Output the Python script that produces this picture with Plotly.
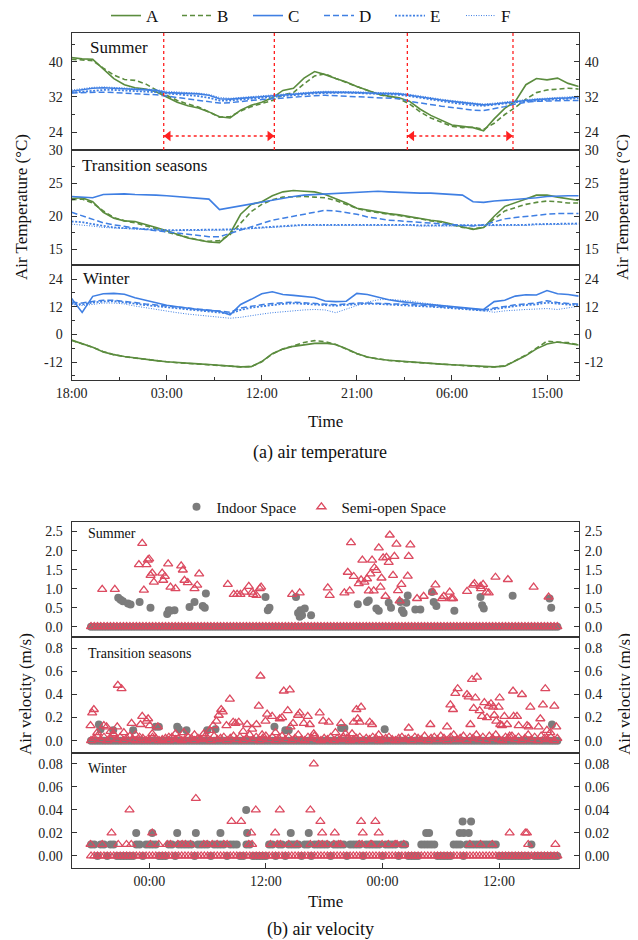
import plotly.graph_objects as go

W, H = 638, 940
PAGE_OFF = 8  # the page body margin shifts the figure by this many px
GREEN = "#5b8c3e"
BLUE = "#3f7fe3"
RED_LINE = "#ff2020"
TRI_RED = "#dc4a60"
GRAY = "#7c7c7c"
AXIS = "#333333"
FONT = "Liberation Serif"

# ======================= (a) air temperature =======================
temp_hours = list(range(49))  # hours after 18:00 of day 1
temp_tick_vals = [0, 9, 18, 27, 36, 45]
temp_tick_text = ["18:00", "03:00", "12:00", "21:00", "06:00", "15:00"]
temp_minor_vals = [4.5, 13.5, 22.5, 31.5, 40.5]
series_names = ["A", "B", "C", "D", "E", "F"]

summer_A = [41.0, 40.7, 40.6, 38.3, 36.2, 34.8, 34.1, 33.8, 33.2, 32.0,
            30.8, 30.0, 29.5, 28.6, 27.5, 27.2, 29.0, 30.1, 30.8, 31.8,
            33.5, 34.0, 36.3, 37.8, 37.1, 36.2, 35.4, 34.4, 33.5, 32.7,
            32.2, 31.8, 31.0, 29.2, 27.8, 26.7, 25.6, 25.3, 25.0, 24.3,
            27.0, 29.4, 31.0, 34.8, 36.2, 35.9, 36.3, 35.1, 34.4]
summer_B = [40.6, 40.5, 40.3, 38.6, 37.0, 36.0, 35.8, 35.0, 33.6, 32.4,
            31.2, 30.4, 29.7, 28.6, 27.4, 27.5, 28.8, 29.8, 30.5, 31.2,
            32.5, 33.0, 35.0, 36.8, 37.3, 36.2, 35.3, 34.4, 33.4, 32.6,
            32.1, 31.6, 30.4, 28.6, 27.2, 26.2, 25.3, 25.0, 25.1, 24.6,
            26.0, 28.0, 29.6, 31.5, 33.0, 33.6, 33.8, 34.0, 33.8]
summer_C = [33.3, 33.6, 34.0, 34.1, 34.0, 33.9, 33.8, 33.7, 33.5, 33.0,
            32.9, 32.8, 32.7, 32.4, 31.6, 31.5, 31.7, 31.9, 32.1, 32.3,
            32.5, 32.7, 32.9, 33.0, 33.1, 33.1, 33.1, 33.0, 32.9, 32.8,
            32.7, 32.7, 32.4, 32.0, 31.6, 31.3, 31.0, 30.7, 30.4, 30.2,
            30.4, 30.7, 31.0, 31.2, 31.4, 31.6, 31.7, 31.8, 32.0]
summer_D = [32.9, 33.0, 33.1, 33.1, 33.0, 32.9, 32.8, 32.7, 32.5, 32.2,
            31.9, 31.6, 31.3, 30.9, 30.6, 30.7, 31.0, 31.2, 31.4, 31.6,
            31.8, 32.0, 32.2, 32.3, 32.4, 32.3, 32.2, 32.1, 32.0, 31.9,
            31.8, 31.6, 31.0, 30.6, 30.2, 29.9, 29.6, 29.3, 29.0, 28.9,
            29.3, 29.8, 30.4, 30.8, 31.0, 31.1, 31.2, 31.2, 31.2]
summer_E = [33.0, 33.2, 33.5, 33.6, 33.6, 33.5, 33.4, 33.3, 33.1, 32.8,
            32.6, 32.4, 32.2, 31.8, 31.2, 31.2, 31.4, 31.6, 31.8, 32.0,
            32.3, 32.5, 32.7, 32.8, 32.9, 33.0, 33.0, 32.9, 32.8, 32.7,
            32.6, 32.5, 32.2, 31.8, 31.4, 31.0, 30.7, 30.4, 30.1, 30.0,
            30.2, 30.5, 30.8, 31.0, 31.2, 31.4, 31.5, 31.6, 31.7]
summer_F = [33.6, 33.9, 34.2, 34.3, 34.2, 34.1, 34.0, 33.9, 33.7, 33.3,
            33.1, 33.0, 32.9, 32.6, 31.9, 31.7, 31.9, 32.1, 32.3, 32.5,
            32.7, 32.9, 33.1, 33.2, 33.3, 33.3, 33.3, 33.2, 33.1, 33.0,
            32.9, 32.9, 32.6, 32.2, 31.8, 31.5, 31.2, 30.9, 30.6, 30.4,
            30.6, 30.9, 31.2, 31.4, 31.6, 31.8, 31.9, 32.0, 32.2]

trans_A = [22.7, 22.8, 22.2, 20.6, 19.7, 19.3, 19.2, 18.8, 18.3, 17.8,
           17.3, 16.7, 16.4, 16.1, 16.0, 17.4, 20.3, 21.8, 22.2, 23.1,
           23.7, 23.9, 23.8, 23.7, 23.3, 22.7, 22.0, 21.2, 20.9, 20.6,
           20.4, 20.2, 19.9, 19.7, 19.4, 19.2, 18.8, 18.3, 18.0, 18.3,
           20.0, 21.5, 22.0, 22.6, 23.2, 23.2, 22.9, 22.6, 22.4]
trans_B = [22.5, 22.6, 22.0, 20.8, 19.8, 19.3, 19.0, 18.6, 18.1, 17.6,
           17.2, 16.7, 16.4, 16.2, 16.3, 17.2, 19.0, 20.7, 21.8, 22.5,
           22.9, 23.0, 23.0, 22.9, 22.8, 22.4, 21.8, 21.2, 20.8, 20.5,
           20.3, 20.1, 19.9, 19.6, 19.3, 19.1, 18.7, 18.3, 18.1, 18.3,
           19.6, 20.8, 21.3, 21.8, 22.1, 22.3, 22.2, 22.0, 22.0]
trans_C = [23.0, 22.9, 22.8, 23.3, 23.4, 23.4, 23.3, 23.3, 23.2, 23.1,
           23.0, 22.9, 22.8, 22.6, 21.0, 21.3, 21.6, 21.9, 22.2, 22.4,
           22.7, 23.0, 23.2, 23.3, 23.4, 23.5, 23.6, 23.7, 23.7, 23.8,
           23.7, 23.6, 23.6, 23.5, 23.5, 23.4, 23.3, 23.2, 22.2, 22.1,
           22.3, 22.4, 22.5, 22.6, 22.8, 23.0, 23.1, 23.1, 23.1]
trans_D = [20.6, 20.1, 19.6, 19.0, 18.7, 18.4, 18.2, 18.0, 17.8, 17.6,
           17.5, 17.3, 17.1, 16.9, 16.9, 17.4, 18.0, 18.5, 19.0, 19.4,
           19.7, 20.0, 20.4, 20.7, 20.9, 20.8, 20.6, 20.3, 19.9, 19.6,
           19.4, 19.3, 19.2, 19.0, 18.9, 18.8, 18.7, 18.6, 18.5, 18.7,
           19.2, 19.6, 19.8, 20.0, 20.2, 20.3, 20.4, 20.4, 20.4]
trans_E = [19.2, 19.1, 18.8, 18.5, 18.3, 18.2, 18.1, 18.0, 18.0, 17.9,
           17.9, 17.9, 17.9, 17.9, 17.9, 18.0, 18.1, 18.2, 18.3, 18.5,
           18.6, 18.7, 18.7, 18.7, 18.7, 18.7, 18.7, 18.7, 18.7, 18.7,
           18.7, 18.8, 18.7, 18.6, 18.6, 18.6, 18.6, 18.6, 18.6, 18.6,
           18.6, 18.7, 18.7, 18.7, 18.8, 18.8, 18.9, 18.9, 18.9]
trans_F = [18.8, 18.7, 18.5, 18.3, 18.2, 18.1, 18.0, 17.9, 17.9, 17.8,
           17.8, 17.8, 17.8, 17.8, 17.8, 17.9, 18.0, 18.1, 18.2, 18.4,
           18.5, 18.6, 18.6, 18.6, 18.6, 18.6, 18.6, 18.6, 18.6, 18.6,
           18.6, 18.7, 18.6, 18.5, 18.5, 18.5, 18.5, 18.5, 18.5, 18.5,
           18.5, 18.6, 18.6, 18.6, 18.7, 18.7, 18.8, 18.8, 18.8]

winter_A = [-2.5, -4.0, -5.6, -7.6, -8.8, -9.6, -10.3, -10.9, -11.4, -11.9,
            -12.3, -12.6, -12.8, -13.1, -13.5, -14.0, -14.1, -14.0, -11.8, -8.4,
            -6.4, -5.2, -4.4, -3.9, -3.8, -4.4, -6.2, -8.3, -9.8, -10.7,
            -11.2, -11.6, -12.0, -12.3, -12.6, -12.9, -13.2, -13.5, -13.8, -14.0,
            -14.1, -13.8, -11.5, -9.2, -6.3, -4.2, -3.3, -3.9, -4.6]
winter_B = [-2.6, -4.1, -5.6, -7.5, -8.8, -9.7, -10.3, -10.9, -11.5, -11.9,
            -12.3, -12.6, -12.9, -13.1, -13.5, -13.9, -14.1, -14.0, -11.9, -8.5,
            -6.3, -5.0, -3.5, -2.7, -3.2, -4.4, -6.3, -8.4, -9.9, -10.7,
            -11.3, -11.7, -12.0, -12.4, -12.7, -12.9, -13.3, -13.5, -13.8, -14.1,
            -14.1, -13.7, -11.4, -9.0, -6.0, -2.9, -3.4, -3.6, -4.5]
winter_C = [15.6, 9.5, 16.5, 17.6, 17.8, 17.4, 15.9, 14.8, 13.5, 12.6,
            12.0, 11.3, 10.8, 10.4, 10.0, 8.5, 13.0, 15.2, 17.6, 18.5,
            17.3, 16.9, 16.6, 16.0, 14.5, 14.2, 14.4, 17.8, 17.3, 16.0,
            15.0, 14.3, 13.7, 13.3, 12.9, 12.5, 12.0, 11.7, 11.3, 10.8,
            14.2, 14.8, 16.6, 17.2, 17.1, 19.0, 17.6, 17.3, 16.6]
winter_D = [14.0, 13.6, 14.3, 14.8, 14.8, 14.4, 13.8, 13.2, 12.7, 12.2,
            11.8, 11.3, 10.9, 10.5, 10.1, 9.6, 11.4, 12.3, 12.9, 13.4,
            13.8, 14.0, 13.7, 13.4, 13.0, 12.8, 13.2, 13.6, 13.6, 13.5,
            13.3, 13.2, 13.0, 12.7, 12.3, 12.0, 11.7, 11.3, 11.0, 10.6,
            11.4, 12.2, 12.8, 13.2, 13.6, 14.6, 13.8, 13.4, 13.2]
winter_E = [13.4, 13.0, 13.8, 14.3, 14.4, 14.0, 13.3, 12.7, 12.2, 11.7,
            11.2, 10.7, 10.3, 9.9, 9.5, 9.0, 10.6, 11.6, 12.2, 12.8,
            13.2, 13.5, 13.3, 13.0, 12.7, 12.4, 12.8, 13.2, 13.3, 13.2,
            13.0, 12.9, 12.7, 12.4, 12.0, 11.7, 11.4, 11.0, 10.7, 10.3,
            11.0, 11.8, 12.3, 12.7, 13.0, 13.8, 13.2, 12.9, 12.7]
winter_F = [13.0, 12.5, 13.0, 13.6, 13.6, 13.2, 12.3, 11.5, 10.7, 10.0,
            9.4, 8.8, 8.3, 7.9, 7.4, 7.0, 7.4, 8.2, 8.8, 9.4,
            9.9, 10.3, 10.6, 10.8, 10.6, 9.4, 10.8, 12.5, 14.0, 15.0,
            15.2, 15.0, 14.5, 13.8, 13.2, 12.6, 12.0, 11.5, 11.0, 10.3,
            9.6, 10.2, 10.6, 10.8, 11.0, 11.2, 10.8, 11.6, 12.2]

summer_temp_ticks = [24, 32, 40]
trans_temp_ticks = [15, 20, 25, 30]
winter_temp_ticks = [-12, 0, 12, 24]

# comparison periods marked in summer (hours after 18:00)
summer_periods = [(8.72, 19.19), (31.78, 41.78)]
arrow_level = 23.1

# ======================= (b) air velocity =======================
vel_tick_vals = [0, 12, 24, 36]          # hours after 00:00 of day 1
vel_tick_text = ["00:00", "12:00", "00:00", "12:00"]
vel_hours = [-6 + i / 3 for i in range(145)]  # 20-min logging grid

summer_vel_ticks = [0.0, 0.5, 1.0, 1.5, 2.0, 2.5]
trans_vel_ticks = [0.0, 0.2, 0.4, 0.6, 0.8]
winter_vel_ticks = [0.0, 0.02, 0.04, 0.06, 0.08]

summer_indoor_band = [
    0, 0, 0, 0, 0, 0, 0, 0, 0, 0, 0, 0,
    0, 0, 0, 0, 0, 0, 0, 0, 0, 0, 0, 0,
    0, 0, 0, 0, 0, 0, 0, 0, 0, 0, 0, 0,
    0, 0, 0, 0, 0, 0, 0, 0, 0, 0, 0, 0,
    0, 0, 0, 0, 0, 0, 0, 0, 0, 0, 0, 0,
    0, 0, 0, 0, 0, 0, 0, 0, 0, 0, 0, 0,
    0, 0, 0, 0, 0, 0, 0, 0, 0, 0, 0, 0,
    0, 0, 0, 0, 0, 0, 0, 0, 0, 0, 0, 0,
    0, 0, 0, 0, 0, 0, 0, 0, 0, 0, 0, 0,
    0, 0, 0, 0, 0, 0, 0, 0, 0, 0, 0, 0,
    0, 0, 0, 0, 0, 0, 0, 0, 0, 0, 0, 0,
    0, 0, 0, 0, 0, 0, 0, 0, 0, 0, 0, 0,
    0]
summer_semi_band = [
    0, 0, 0, 0, 0, 0, 0, 0, 0, 0, 0, 0,
    0, 0, 0, 0, 0, 0, 0, 0, 0, 0, 0, 0,
    0, 0, 0, 0, 0, 0, 0, 0, 0, 0, 0, 0,
    0, 0, 0, 0, 0, 0, 0, 0, 0, 0, 0, 0,
    0, 0, 0, 0, 0, 0, 0, 0, 0, 0, 0, 0,
    0, 0, 0, 0, 0, 0, 0, 0, 0, 0, 0, 0,
    0, 0, 0, 0, 0, 0, 0, 0, 0, 0, 0, 0,
    0, 0, 0, 0, 0, 0, 0, 0, 0, 0, 0, 0,
    0, 0, 0, 0, 0, 0, 0, 0, 0, 0, 0, 0,
    0, 0, 0, 0, 0, 0, 0, 0, 0, 0, 0, 0,
    0, 0, 0, 0, 0, 0, 0, 0, 0, 0, 0, 0,
    0, 0, 0, 0, 0, 0, 0, 0, 0, 0, 0, 0,
    0]
summer_indoor_peaks = [
    (-3.2, 0.76), (-2.96, 0.71), (-2.72, 0.67), (-2.2, 0.61), (-1.93, 0.58),
    (-1.0, 0.65), (0.12, 0.5), (1.84, 0.33), (2.01, 0.43), (2.18, 0.42),
    (2.59, 0.43), (4.14, 0.52), (4.65, 0.65), (5.5, 0.54), (5.71, 0.5),
    (5.82, 0.87), (11.96, 0.78), (12.2, 0.43), (12.37, 0.5), (15.1, 0.78),
    (15.31, 0.36), (15.48, 0.26), (15.55, 0.43), (15.72, 0.3), (16.0, 0.48),
    (16.65, 0.3), (21.46, 0.59), (22.41, 0.65), (22.59, 0.69), (23.37, 0.48),
    (23.62, 0.42), (24.64, 0.63), (24.88, 0.5), (25.84, 0.65), (26.0, 0.43),
    (26.18, 0.36), (26.46, 0.63), (26.6, 0.82), (27.38, 0.45), (27.9, 0.45),
    (29.1, 0.91), (29.27, 0.65), (29.55, 0.54), (31.4, 0.42), (34.09, 0.78),
    (34.26, 0.56), (34.43, 0.48), (37.4, 0.81), (41.2, 0.74), (41.37, 0.5)]
summer_semi_peaks = [
    (-4.85, 0.98), (-3.55, 0.98), (-1.07, 1.63), (-0.73, 2.19), (-0.56, 0.96),
    (-0.29, 1.63), (-0.15, 1.75), (-0.02, 1.78), (0.13, 1.35), (0.3, 1.41),
    (0.47, 1.17), (1.32, 1.41), (1.43, 1.22), (1.6, 1.32), (1.94, 1.65),
    (2.18, 1.04), (2.69, 1.0), (3.28, 1.6), (3.45, 1.49), (3.62, 1.22),
    (3.96, 1.16), (4.65, 1.0), (4.93, 1.09), (5.13, 1.39), (8.08, 1.11),
    (8.69, 0.85), (9.04, 0.85), (9.38, 0.85), (9.79, 0.91), (10.24, 1.06),
    (10.58, 0.91), (10.69, 0.85), (11.03, 0.82), (11.37, 1.0), (11.51, 1.04),
    (14.7, 0.85), (15.48, 0.89), (18.37, 1.02), (18.57, 0.82), (20.08, 0.89),
    (20.43, 1.43), (20.63, 0.94), (20.76, 2.21), (21.04, 1.32), (21.56, 1.13),
    (21.8, 1.23), (21.93, 1.75), (22.14, 1.17), (22.41, 1.26), (22.59, 0.94),
    (22.76, 1.39), (22.93, 1.75), (23.1, 0.94), (23.17, 1.55), (23.37, 1.48),
    (23.62, 2.07), (23.79, 1.04), (23.9, 1.28), (24.07, 1.81), (24.31, 0.8),
    (24.41, 1.82), (24.64, 1.69), (24.75, 2.41), (25.09, 1.35), (25.23, 1.85),
    (25.44, 2.17), (25.6, 0.95), (25.77, 0.68), (25.95, 1.11), (26.6, 1.33),
    (26.7, 1.85), (26.87, 2.15), (27.56, 0.74), (28.24, 0.8), (29.2, 0.91),
    (29.45, 1.1), (30.13, 0.74), (30.31, 0.8), (30.92, 0.91), (31.1, 0.74),
    (31.27, 0.74), (32.71, 0.93), (33.33, 1.09), (33.47, 1.13), (34.09, 1.06),
    (34.15, 1.0), (34.36, 1.11), (34.7, 0.91), (34.94, 0.89), (35.63, 1.3),
    (36.91, 1.24), (39.56, 1.04), (41.1, 0.78)]

trans_indoor_band = [
    0, 0, 0, 0, 0, 0, 0, 0, 0, 0, 0, 0,
    0, 0, 0, 0, 0, 0, 0, 0, 0, 0, 0, 0,
    0, 0, 0, 0, 0, 0, 0, 0, 0, 0, 0, 0,
    0, 0, 0, 0, 0, 0, 0, 0, 0, 0, 0, 0,
    0, 0, 0, 0, 0, 0, 0, 0, 0, 0, 0, 0,
    0, 0, 0, 0, 0, 0, 0, 0, 0, 0, 0, 0,
    0, 0, 0, 0, 0, 0, 0, 0, 0, 0, 0, 0,
    0, 0, 0, 0, 0, 0, 0, 0, 0, 0, 0, 0,
    0, 0, 0, 0, 0, 0, 0, 0, 0, 0, 0, 0,
    0, 0, 0, 0, 0, 0, 0, 0, 0, 0, 0, 0,
    0, 0, 0, 0, 0, 0, 0, 0, 0, 0, 0, 0,
    0, 0, 0, 0, 0, 0, 0, 0, 0, 0, 0, 0,
    0]
trans_semi_band = [
    0.0, 0.02, 0.04, 0.01, 0.03, 0.0, 0.02, 0.05, 0.01, 0.03, 0.0, 0.02,
    0.04, 0.01, 0.0, 0.03, 0.02, 0.0, 0.01, 0.03, 0.02, 0.0, 0.01, 0.02,
    0.0, 0.03, 0.01, 0.02, 0.0, 0.01, 0.03, 0.02, 0.0, 0.02, 0.01, 0.03,
    0.02, 0.0, 0.04, 0.01, 0.02, 0.03, 0.0, 0.02, 0.04, 0.01, 0.03, 0.0,
    0.02, 0.05, 0.01, 0.03, 0.0, 0.02, 0.04, 0.01, 0.03, 0.0, 0.02, 0.04,
    0.01, 0.03, 0.0, 0.02, 0.05, 0.01, 0.0, 0.03, 0.02, 0.04, 0.01, 0.0,
    0.02, 0.01, 0.03, 0.0, 0.02, 0.01, 0.03, 0.02, 0.0, 0.01, 0.02, 0.03,
    0.0, 0.02, 0.01, 0.03, 0.02, 0.0, 0.01, 0.02, 0.03, 0.01, 0.0, 0.02,
    0.03, 0.01, 0.02, 0.0, 0.03, 0.02, 0.01, 0.04, 0.0, 0.02, 0.03, 0.01,
    0.04, 0.02, 0.0, 0.03, 0.05, 0.01, 0.02, 0.04, 0.0, 0.03, 0.02, 0.05,
    0.01, 0.03, 0.0, 0.04, 0.02, 0.05, 0.01, 0.0, 0.03, 0.02, 0.04, 0.01,
    0.03, 0.0, 0.02, 0.05, 0.01, 0.03, 0.0, 0.04, 0.02, 0.01, 0.03, 0.0,
    0.02]
trans_indoor_peaks = [
    (-5.19, 0.14), (-5.02, 0.10), (-3.72, 0.09), (-1.66, 0.09), (0.64, 0.12),
    (0.98, 0.12), (2.87, 0.12), (3.04, 0.10), (3.83, 0.09), (5.96, 0.09),
    (6.81, 0.10), (12.88, 0.12), (14.0, 0.09), (14.35, 0.09), (19.74, 0.11),
    (20.08, 0.11), (24.23, 0.10), (41.45, 0.14)]
trans_semi_peaks = [
    (-6.05, 0.13), (-5.88, 0.24), (-5.71, 0.27), (-5.36, 0.07), (-4.68, 0.13),
    (-4.4, 0.12), (-3.99, 0.08), (-3.72, 0.06), (-3.3, 0.12), (-3.24, 0.48),
    (-2.86, 0.45), (-2.62, 0.07), (-1.83, 0.15), (-1.42, 0.05), (-0.91, 0.14),
    (-0.73, 0.21), (-0.29, 0.17), (-0.12, 0.19), (0.05, 0.13), (0.3, 0.06),
    (0.88, 0.12), (2.01, 0.03), (2.7, 0.06), (3.55, 0.07), (4.65, 0.05),
    (5.61, 0.06), (6.23, 0.09), (6.57, 0.13), (6.91, 0.17), (7.15, 0.22),
    (7.4, 0.27), (7.56, 0.25), (7.94, 0.13), (8.29, 0.36), (8.63, 0.16),
    (8.87, 0.15), (9.21, 0.16), (9.66, 0.08), (10.07, 0.14), (10.58, 0.1),
    (11.03, 0.14), (11.27, 0.3), (11.44, 0.56), (11.61, 0.05), (11.96, 0.17),
    (12.13, 0.23), (12.64, 0.21), (12.99, 0.07), (13.43, 0.19), (13.67, 0.2),
    (13.84, 0.43), (14.25, 0.26), (14.46, 0.44), (14.53, 0.12), (14.8, 0.15),
    (15.31, 0.22), (15.48, 0.24), (15.9, 0.15), (16.31, 0.21), (16.52, 0.14),
    (16.93, 0.06), (17.54, 0.24), (17.89, 0.17), (18.47, 0.16), (19.16, 0.07),
    (19.74, 0.15), (20.19, 0.06), (20.87, 0.06), (21.04, 0.16), (21.32, 0.27),
    (21.45, 0.19), (21.66, 0.16), (21.8, 0.29), (22.69, 0.16), (22.93, 0.14),
    (23.61, 0.05), (26.7, 0.11), (28.93, 0.14), (30.65, 0.12), (30.99, 0.31),
    (31.26, 0.27), (31.5, 0.41), (31.74, 0.45), (32.7, 0.4), (32.87, 0.38),
    (33.05, 0.14), (33.22, 0.53), (33.39, 0.28), (33.56, 0.37), (33.73, 0.55),
    (34.0, 0.26), (34.25, 0.21), (34.49, 0.33), (34.76, 0.2), (34.93, 0.3),
    (35.17, 0.32), (35.38, 0.29), (35.51, 0.22), (35.72, 0.17), (35.96, 0.29),
    (36.06, 0.37), (36.13, 0.14), (36.3, 0.13), (36.55, 0.21), (36.82, 0.14),
    (37.09, 0.04), (37.44, 0.43), (37.5, 0.21), (37.85, 0.21), (38.02, 0.13),
    (38.36, 0.4), (38.88, 0.13), (39.05, 0.12), (39.22, 0.29), (40.07, 0.12),
    (40.25, 0.19), (40.52, 0.31), (40.76, 0.45), (40.93, 0.09), (41.28, 0.07),
    (41.69, 0.3), (41.89, 0.12)]

winter_indoor_band = [
    0.01, 0.01, 0, 0.01, 0.01, 0, 0.01, 0.01, 0, 0, 0, 0,
    0, 0, 0.01, 0.01, 0, 0.01, 0.01, 0.01, 0.01, 0, 0, 0,
    0.01, 0.01, 0, 0.01, 0.01, 0.01, 0.01, 0.01, 0, 0.01, 0.01, 0.01,
    0.01, 0, 0.01, 0.01, 0.01, 0.01, 0, 0.01, 0.01, 0.01, 0, 0,
    0.01, 0.01, 0, 0, 0, 0, 0, 0.01, 0.01, 0, 0.01, 0.01,
    0, 0.01, 0.01, 0.01, 0.01, 0, 0.01, 0.01, 0, 0.01, 0.01, 0.01,
    0.01, 0.01, 0, 0.01, 0.01, 0.01, 0.01, 0, 0.01, 0.01, 0.01, 0.01,
    0, 0.01, 0.01, 0.01, 0.01, 0.01, 0, 0.01, 0.01, 0.01, 0.01, 0,
    0.01, 0.01, 0, 0, 0, 0, 0.01, 0.01, 0.01, 0.01, 0.01, 0,
    0, 0, 0, 0, 0.01, 0.01, 0.01, 0, 0.01, 0.01, 0.01, 0.01,
    0.01, 0.01, 0.01, 0.01, 0.01, 0.01, 0, 0, 0, 0, 0, 0,
    0, 0, 0, 0, 0.01, 0, 0, 0, 0, 0, 0, 0,
    0]
winter_semi_band = [
    0, 0, 0, 0, 0, 0, 0, 0, 0, 0, 0, 0,
    0, 0, 0, 0, 0, 0, 0, 0, 0, 0, 0, 0,
    0, 0, 0, 0, 0, 0, 0, 0, 0, 0, 0, 0,
    0, 0, 0, 0, 0, 0, 0, 0, 0, 0, 0, 0,
    0, 0, 0, 0, 0, 0, 0, 0, 0, 0, 0, 0,
    0, 0, 0, 0, 0, 0, 0, 0, 0, 0, 0, 0,
    0, 0, 0, 0, 0, 0, 0, 0, 0, 0, 0, 0,
    0, 0, 0, 0, 0, 0, 0, 0, 0, 0, 0, 0,
    0, 0, 0, 0, 0, 0, 0, 0, 0, 0, 0, 0,
    0, 0, 0, 0, 0, 0, 0, 0, 0, 0, 0, 0,
    0, 0, 0, 0, 0, 0, 0, 0, 0, 0, 0, 0,
    0, 0, 0, 0, 0, 0, 0, 0, 0, 0, 0, 0,
    0]
winter_indoor_peaks = [
    (-1.35, 0.02), (0.30, 0.02), (2.87, 0.02), (4.79, 0.02), (7.32, 0.02),
    (9.97, 0.04), (10.07, 0.02), (14.56, 0.02), (16.41, 0.02), (28.5, 0.02),
    (28.8, 0.02), (31.95, 0.02), (32.36, 0.02), (32.88, 0.02), (32.25, 0.03),
    (33.12, 0.03)]
winter_semi_peaks = [
    (-6.05, 0.01), (-4.85, 0.01), (-3.2, 0.01), (-2.35, 0.01), (-1.86, 0.01),
    (0.12, 0.01), (0.98, 0.01), (1.84, 0.01), (2.18, 0.01), (2.94, 0.01),
    (3.38, 0.01), (3.72, 0.01), (4.24, 0.01), (5.61, 0.01), (5.95, 0.01),
    (6.47, 0.01), (6.98, 0.01), (7.67, 0.01), (8.01, 0.01), (10.24, 0.01),
    (10.58, 0.01), (12.47, 0.01), (13.16, 0.01), (13.5, 0.01), (14.36, 0.01),
    (15.21, 0.01), (16.58, 0.01), (17.44, 0.01), (17.8, 0.01), (18.3, 0.01),
    (19.0, 0.01), (19.5, 0.01), (19.7, 0.01), (21.6, 0.01), (21.9, 0.01),
    (22.8, 0.01), (22.9, 0.01), (23.96, 0.01), (24.6, 0.01), (25.3, 0.01),
    (25.5, 0.01), (26.2, 0.01), (33.0, 0.01), (34.1, 0.01), (35.3, 0.01),
    (39.0, 0.01), (41.8, 0.01),
    (-3.89, 0.02), (-2.04, 0.04), (0.30, 0.02), (4.79, 0.05), (8.46, 0.03),
    (9.45, 0.03), (10.48, 0.02), (10.96, 0.04), (12.95, 0.02), (13.43, 0.04),
    (16.58, 0.04), (16.93, 0.08), (17.61, 0.03), (17.79, 0.02), (19.09, 0.02),
    (21.8, 0.03), (21.97, 0.02), (23.27, 0.03), (23.61, 0.02), (37.09, 0.02),
    (38.7, 0.02), (38.87, 0.02)]

# ======================= geometry (target screen px) =======================
def fx(px):
    return (px - PAGE_OFF) / W


def fy(py):
    return 1 - (py - PAGE_OFF) / H


X_L, X_R = 71.6, 578.7
XDOM = [fx(X_L), fx(X_R)]
A_ROWS = [(33, 150), (150, 265), (265, 380)]
B_ROWS = [(521.7, 637.3), (637.3, 752.7), (752.7, 867.7)]
A_RANGES = [[19.9, 46.6], [12.6, 30.05], [-19.8, 30.1]]
B_RANGES = [[-0.28, 2.76], [-0.104, 0.895], [-0.0102, 0.0898]]
A_MINOR = [4, 2.5, 6]

fig = go.Figure()

line_styles = {
    "A": dict(color=GREEN, width=1.6),
    "B": dict(color=GREEN, width=1.6, dash="5px,3px"),
    "C": dict(color=BLUE, width=1.6),
    "D": dict(color=BLUE, width=1.5, dash="6px,3px"),
    "E": dict(color=BLUE, width=1.8, dash="2px,1.6px"),
    "F": dict(color=BLUE, width=1.0, dash="1px,1.5px"),
}

a_series = [
    [summer_A, summer_B, summer_C, summer_D, summer_E, summer_F],
    [trans_A, trans_B, trans_C, trans_D, trans_E, trans_F],
    [winter_A, winter_B, winter_C, winter_D, winter_E, winter_F],
]
a_ticks = [summer_temp_ticks, trans_temp_ticks, winter_temp_ticks]
season_labels = ["Summer", "Transition seasons", "Winter"]

for r in range(3):
    xa = "x" if r == 0 else f"x{r + 1}"
    ya = "y" if r == 0 else f"y{r + 1}"
    for name, vals in zip(series_names, a_series[r]):
        fig.add_trace(go.Scatter(
            x=temp_hours, y=vals, mode="lines", name=name,
            line=line_styles[name], xaxis=xa, yaxis=ya,
            legend="legend", legendgroup=name, showlegend=(r == 0)))
    fig.add_trace(go.Scatter(x=[], y=[], xaxis=xa, yaxis=f"y{r + 7}",
                             showlegend=False, hoverinfo="skip"))

# red marked periods (summer)
px_per_hour = (X_R - X_L) / 48
head_off = 4.5 / px_per_hour
for p0, p1 in summer_periods:
    for xv in (p0, p1):
        fig.add_shape(type="line", xref="x", yref="y domain", x0=xv, x1=xv,
                      y0=0, y1=1, line=dict(color=RED_LINE, width=1.3, dash="dot"))
    fig.add_trace(go.Scatter(x=[p0, p1], y=[arrow_level, arrow_level], mode="lines",
                             line=dict(color=RED_LINE, width=1.3, dash="dot"),
                             xaxis="x", yaxis="y", showlegend=False, hoverinfo="skip"))
    fig.add_trace(go.Scatter(x=[p0 + head_off, p1 - head_off], y=[arrow_level, arrow_level],
                             mode="markers",
                             marker=dict(symbol=["triangle-left", "triangle-right"], size=9,
                                         color=RED_LINE, line=dict(width=0)),
                             xaxis="x", yaxis="y", showlegend=False, hoverinfo="skip"))

b_data = [
    (summer_indoor_band, summer_indoor_peaks, summer_semi_band, summer_semi_peaks),
    (trans_indoor_band, trans_indoor_peaks, trans_semi_band, trans_semi_peaks),
    (winter_indoor_band, winter_indoor_peaks, winter_semi_band, winter_semi_peaks),
]
b_ticks = [summer_vel_ticks, trans_vel_ticks, winter_vel_ticks]
b_fmt = ["{:.1f}", "{:.1f}", "{:.2f}"]

for r in range(3):
    xa = f"x{r + 4}"
    ya = f"y{r + 4}"
    ib, ip, sb, sp = b_data[r]
    fig.add_trace(go.Scatter(
        x=vel_hours + [p[0] for p in ip], y=ib + [p[1] for p in ip],
        mode="markers", name="Indoor Space",
        marker=dict(symbol="circle", size=8, color=GRAY, line=dict(width=0)),
        xaxis=xa, yaxis=ya, legend="legend2", legendgroup="in", showlegend=(r == 0)))
    fig.add_trace(go.Scatter(
        x=vel_hours + [p[0] for p in sp], y=sb + [p[1] for p in sp],
        mode="markers", name="Semi-open Space",
        marker=dict(symbol="triangle-up-open", size=8, color=TRI_RED, line=dict(width=1.3)),
        xaxis=xa, yaxis=ya, legend="legend2", legendgroup="semi", showlegend=(r == 0)))
    fig.add_trace(go.Scatter(x=[], y=[], xaxis=xa, yaxis=f"y{r + 10}",
                             showlegend=False, hoverinfo="skip"))

tickfont = dict(family=FONT, size=14, color="#222")
layout = {}


def ykey(i):
    return "yaxis" if i == 1 else f"yaxis{i}"


def xkey(i):
    return "xaxis" if i == 1 else f"xaxis{i}"


def yaxis_dict(domain, rng, tv, tt, anchor, minor=None, right_of=None):
    d = dict(range=rng, tickvals=tv, ticktext=tt, ticks="inside", ticklen=5,
             tickwidth=1.2, tickcolor=AXIS, showgrid=False, zeroline=False,
             tickfont=tickfont, anchor=anchor, ticklabelstandoff=5)
    if right_of:
        d.update(overlaying=right_of, side="right", showline=False)
    else:
        d.update(domain=domain, side="left", showline=True, linecolor=AXIS,
                 linewidth=1.3, mirror=True)
    if minor:
        d["minor"] = dict(ticks="inside", ticklen=3, dtick=minor, tick0=0,
                          tickcolor=AXIS, showgrid=False)
    return d


# panel (a)
for r in range(3):
    top, bot = A_ROWS[r]
    dom = [fy(bot), fy(top)]
    xa = "x" if r == 0 else f"x{r + 1}"
    ya = "y" if r == 0 else f"y{r + 1}"
    tt = [str(v) for v in a_ticks[r]]
    layout[ykey(r + 1)] = yaxis_dict(dom, A_RANGES[r], a_ticks[r], tt, xa, A_MINOR[r])
    layout[ykey(r + 7)] = yaxis_dict(dom, A_RANGES[r], a_ticks[r], tt, xa, A_MINOR[r], right_of=ya)
    xd = dict(domain=XDOM, range=[0, 48], anchor=ya, showline=True, linecolor=AXIS,
              linewidth=1.3, mirror=True, showgrid=False, zeroline=False)
    if r == 2:
        xd.update(tickvals=temp_tick_vals, ticktext=temp_tick_text, ticks="inside",
                  ticklen=5, tickwidth=1.2, tickcolor=AXIS, tickfont=tickfont,
                  minor=dict(tickvals=temp_minor_vals, ticks="inside", ticklen=3,
                             tickcolor=AXIS, showgrid=False))
    else:
        xd.update(showticklabels=False, ticks="")
    layout[xkey(r + 1)] = xd

# panel (b)
for r in range(3):
    top, bot = B_ROWS[r]
    dom = [fy(bot), fy(top)]
    xa = f"x{r + 4}"
    ya = f"y{r + 4}"
    tt = [b_fmt[r].format(v) for v in b_ticks[r]]
    layout[ykey(r + 4)] = yaxis_dict(dom, B_RANGES[r], b_ticks[r], tt, xa)
    layout[ykey(r + 10)] = yaxis_dict(dom, B_RANGES[r], b_ticks[r], tt, xa, right_of=ya)
    xd = dict(domain=XDOM, range=[-8, 44.2], anchor=ya, showline=True, linecolor=AXIS,
              linewidth=1.3, mirror=True, showgrid=False, zeroline=False)
    if r == 2:
        xd.update(tickvals=vel_tick_vals, ticktext=vel_tick_text, ticks="inside",
                  ticklen=5, tickwidth=1.2, tickcolor=AXIS, tickfont=tickfont)
    else:
        xd.update(showticklabels=False, ticks="")
    layout[xkey(r + 4)] = xd

ann = []


def text(xp, yp, s, size, anchor="center", angle=0):
    ann.append(dict(x=fx(xp), y=fy(yp), xref="paper", yref="paper", text=s,
                    showarrow=False, xanchor=anchor, yanchor="middle", textangle=angle,
                    font=dict(family=FONT, size=size, color="#111")))


a_label_pos = [(88, 47), (80, 166), (81, 278)]
b_label_pos = [(86, 533), (86, 653), (86, 768)]
for r in range(3):
    text(a_label_pos[r][0], a_label_pos[r][1], season_labels[r], 17, "left")
    text(b_label_pos[r][0], b_label_pos[r][1], season_labels[r], 14, "left")

text(21, 207, "Air Temperature (°C)", 17, angle=-90)
text(622, 207, "Air Temperature (°C)", 17, angle=-90)
text(25, 694, "Air velocity (m/s)", 17, angle=-90)
text(624, 694, "Air velocity (m/s)", 17, angle=-90)
text(325, 421, "Time", 17)
text(320, 452, "(a) air temperature", 18)
text(325, 901, "Time", 17)
text(320, 929, "(b) air velocity", 18)

fig.update_layout(
    width=W, height=H, margin=dict(l=0, r=0, t=0, b=0, autoexpand=False),
    paper_bgcolor="white", plot_bgcolor="white",
    font=dict(family=FONT, color="#111"),
    annotations=ann,
    legend=dict(orientation="h", x=fx(319), xanchor="center", y=fy(16), yanchor="middle",
                font=dict(family=FONT, size=17), entrywidth=26, entrywidthmode="pixels",
                bgcolor="rgba(0,0,0,0)"),
    legend2=dict(orientation="h", x=fx(314), xanchor="center", y=fy(507), yanchor="middle",
                 font=dict(family=FONT, size=15), bgcolor="rgba(0,0,0,0)"),
    **layout,
)

fig.write_html("out.html")
